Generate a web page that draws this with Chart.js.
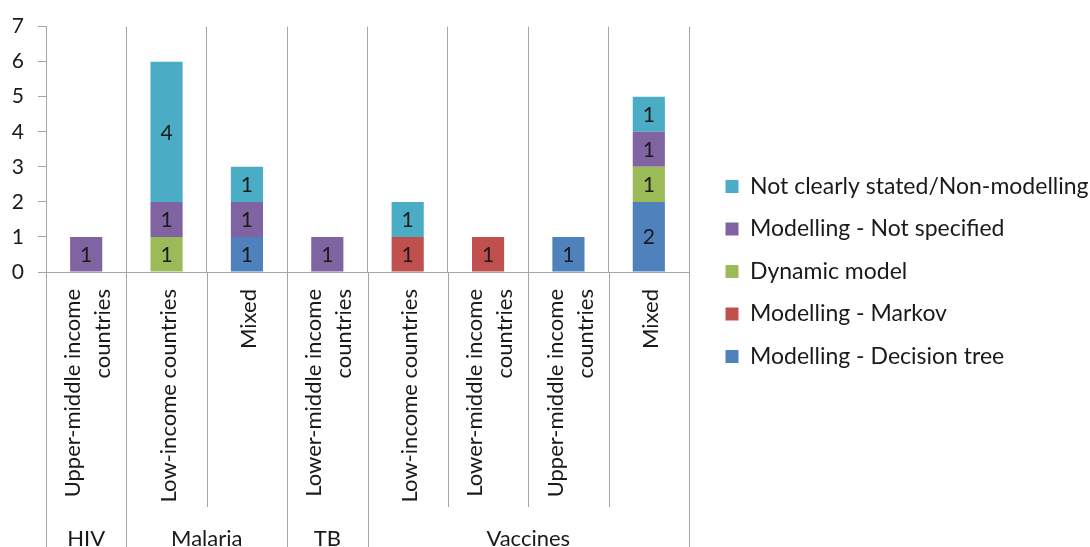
<!DOCTYPE html>
<html><head><meta charset="utf-8">
<script src="https://cdn.jsdelivr.net/npm/chart.js@4"></script>
<style>html,body{margin:0;padding:0;background:#fff}#wrap{width:1090px;height:547px;position:relative}</style>
</head><body><div id="wrap"><canvas id="c"></canvas></div>
<script>
// ---- data ----
const categories = [["Upper-middle income","countries"],["Low-income countries"],["Mixed"],["Lower-middle income","countries"],["Low-income countries"],["Lower-middle income","countries"],["Upper-middle income","countries"],["Mixed"]];
const groupNames = ["HIV","Malaria","TB","Vaccines"];
const groupSizes = [1,2,1,4];
const seriesNames = ["Modelling - Decision tree","Modelling - Markov","Dynamic model","Modelling - Not specified","Not clearly stated/Non-modelling"];
const decisionTree = [0,0,1,0,0,0,1,2];
const markov       = [0,0,0,0,1,1,0,0];
const dynamicModel = [0,1,0,0,0,0,0,1];
const notSpecified = [1,1,1,1,0,0,0,1];
const notClearly   = [0,4,1,0,1,0,0,1];
const yMin = 0, yMax = 7, yStep = 1;

const colors = ["#4F81BD","#C0504D","#9BBB59","#8064A2","#4BACC6"];
const seriesData = [decisionTree, markov, dynamicModel, notSpecified, notClearly];
const FONT = "Lato";
const TXT = "#1a1a1a";
const LINE = "#a6a6a6";
const LEGEND_W = 401, LEGEND_SHIFT = 17, LEGEND_UP = 13;

const helper = {
  id: 'helper',
  beforeInit(chart) {
    const lg = chart.legend;
    if (lg) {
      const f = lg.fit.bind(lg);
      lg.fit = function(){ f(); this.width = LEGEND_W; };
    }
  },
  afterLayout(chart) {
    const lg = chart.legend;
    if (lg) { lg.left += LEGEND_SHIFT; lg.top -= LEGEND_UP; lg.bottom -= LEGEND_UP; }
  },
  afterDatasetsDraw(chart) {
    const ctx = chart.ctx;
    ctx.save();
    ctx.font = "21px " + FONT;
    ctx.fillStyle = TXT;
    ctx.textAlign = "center";
    ctx.textBaseline = "middle";
    chart.data.datasets.forEach((ds, di) => {
      const meta = chart.getDatasetMeta(di);
      meta.data.forEach((el, i) => {
        const v = ds.data[i];
        if (v) ctx.fillText(String(v), el.x, (el.y + el.base) / 2 + 1);
      });
    });
    ctx.restore();
  },
  afterDraw(chart) {
    const ctx = chart.ctx, xs = chart.scales.x, ca = chart.chartArea;
    const n = categories.length;
    const bound = i => i === 0 ? ca.left : i === n ? ca.right : (xs.getPixelForValue(i - 1) + xs.getPixelForValue(i)) / 2;
    const groupBounds = [0];
    groupSizes.forEach(s => groupBounds.push(groupBounds[groupBounds.length - 1] + s));
    ctx.save();
    ctx.strokeStyle = LINE; ctx.lineWidth = 1;
    for (let i = 0; i <= n; i++) {
      const x = Math.round(bound(i)) + 0.5;
      const full = groupBounds.includes(i);
      ctx.beginPath(); ctx.moveTo(x, ca.bottom); ctx.lineTo(x, full ? chart.height : ca.bottom + 235); ctx.stroke();
    }
    // category labels
    ctx.fillStyle = TXT;
    ctx.font = "22px " + FONT;
    ctx.textAlign = "right"; ctx.textBaseline = "middle";
    const lh = 30;
    categories.forEach((lines, i) => {
      const cx = xs.getPixelForValue(i);
      ctx.save();
      ctx.translate(cx, ca.bottom + 17);
      ctx.rotate(-Math.PI / 2);
      lines.forEach((t, j) => ctx.fillText(t, 0, (j - (lines.length - 1) / 2) * lh + 2));
      ctx.restore();
    });
    // group labels
    ctx.textAlign = "center"; ctx.textBaseline = "alphabetic";
    groupNames.forEach((g, k) => {
      const x0 = bound(groupBounds[k]), x1 = bound(groupBounds[k + 1]);
      ctx.fillText(g, (x0 + x1) / 2, chart.height - 1);
    });
    ctx.restore();
  }
};

new Chart(document.getElementById('c'), {
  type: 'bar',
  data: {
    labels: categories.map(c => c.join(' ')),
    datasets: seriesNames.map((name, k) => ({
      label: name, data: seriesData[k], backgroundColor: colors[k], borderWidth: 0,
      barPercentage: 0.4, categoryPercentage: 1
    }))
  },
  plugins: [helper],
  options: {
    responsive: true, maintainAspectRatio: false, animation: false,
    layout: { padding: { left: 0, top: 22, right: 0, bottom: 0 } },
    plugins: {
      tooltip: { enabled: false },
      legend: {
        position: 'right', reverse: true,
        labels: { boxWidth: 13, boxHeight: 13, padding: 19.5, color: TXT, font: { family: FONT, size: 23 } }
      }
    },
    scales: {
      x: {
        stacked: true, offset: true,
        grid: { offset: true, color: LINE, drawTicks: false, lineWidth: 1 },
        border: { color: LINE },
        ticks: { display: false },
        afterFit: s => { s.height = 275; }
      },
      y: {
        stacked: true, min: yMin, max: yMax,
        ticks: { stepSize: yStep, padding: 14, color: TXT, font: { family: FONT, size: 21 } },
        grid: { drawOnChartArea: false, tickLength: 8, color: LINE },
        border: { color: LINE },
        afterFit: s => { s.width = 46; }
      }
    }
  }
});
</script></body></html>
